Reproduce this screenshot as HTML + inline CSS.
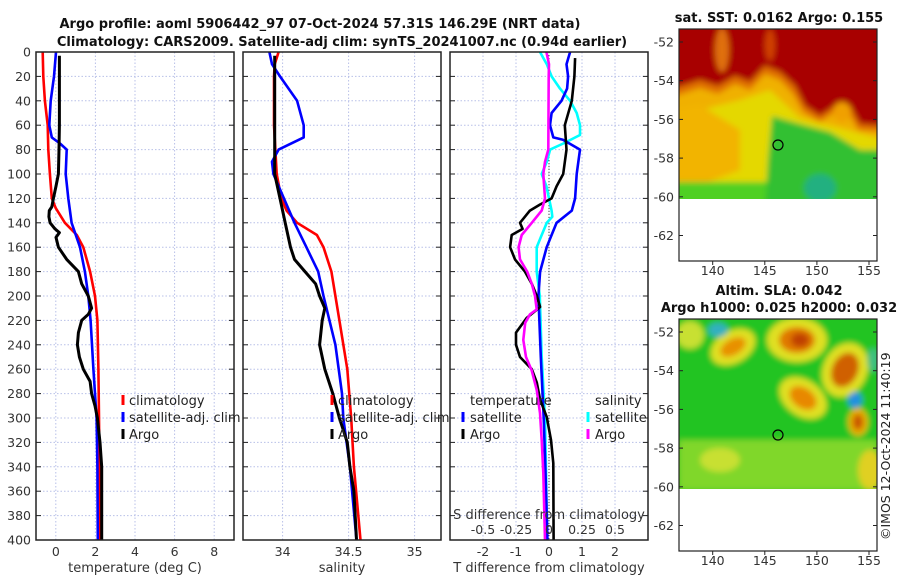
<!DOCTYPE html>
<html><head><meta charset="utf-8"><style>
html,body{margin:0;padding:0;background:#fff;}
svg{display:block;font-family:"DejaVu Sans","Liberation Sans",sans-serif;}
</style></head><body>
<svg id="fig" width="900" height="580" viewBox="0 0 900 580" xmlns="http://www.w3.org/2000/svg">
<defs>
<filter id="bl" filterUnits="userSpaceOnUse" x="600" y="0" width="300" height="580"><feGaussianBlur stdDeviation="3"/></filter>
<clipPath id="c1"><rect x="679" y="29" width="198" height="170"/></clipPath>
<clipPath id="c2"><rect x="679" y="319" width="198" height="170"/></clipPath>
</defs>
<g font-weight="bold" font-size="13" text-anchor="middle" fill="#111">
<text x="320" y="28">Argo profile: aoml 5906442_97 07-Oct-2024 57.31S 146.29E (NRT data)</text>
<text x="342" y="46">Climatology: CARS2009. Satellite-adj clim: synTS_20241007.nc (0.94d earlier)</text>
</g>
<g id="grids"></g>
<g id="lines"></g>
<g id="frames"></g>
<g id="labels" font-size="12.5" fill="#333"></g>

<g font-size="13" fill="#222">
<line x1="123" y1="395" x2="123" y2="405" stroke="red" stroke-width="3"/><text x="129" y="405">climatology</text>
<line x1="123" y1="412" x2="123" y2="422" stroke="blue" stroke-width="3"/><text x="129" y="422">satellite-adj. clim</text>
<line x1="123" y1="429" x2="123" y2="439" stroke="black" stroke-width="3"/><text x="129" y="439">Argo</text>
</g>
<g font-size="13" fill="#222">
<line x1="332" y1="395" x2="332" y2="405" stroke="red" stroke-width="3"/><text x="338" y="405">climatology</text>
<line x1="332" y1="412" x2="332" y2="422" stroke="blue" stroke-width="3"/><text x="338" y="422">satellite-adj. clim</text>
<line x1="332" y1="429" x2="332" y2="439" stroke="black" stroke-width="3"/><text x="338" y="439">Argo</text>
</g>
<g font-size="13" fill="#222">
<text x="470" y="405">temperature</text>
<line x1="463" y1="412" x2="463" y2="422" stroke="blue" stroke-width="3"/><text x="470" y="422">satellite</text>
<line x1="463" y1="429" x2="463" y2="439" stroke="black" stroke-width="3"/><text x="470" y="439">Argo</text>
<text x="595" y="405">salinity</text>
<line x1="588" y1="412" x2="588" y2="422" stroke="cyan" stroke-width="3"/><text x="595" y="422">satellite</text>
<line x1="588" y1="429" x2="588" y2="439" stroke="magenta" stroke-width="3"/><text x="595" y="439">Argo</text>
</g>

<!-- SST map -->
<g>
<text x="779" y="22" font-size="13" font-weight="bold" text-anchor="middle" fill="#111">sat. SST: 0.0162 Argo: 0.155</text>
<g clip-path="url(#c1)"><g filter="url(#bl)">
<rect x="670" y="20" width="215" height="190" fill="#a80000"/>
<polygon points="670,90 700,80 718,86 735,76 750,82 765,66 780,72 795,86 805,106 820,116 835,106 850,106 860,124 885,126 885,210 670,210" fill="#e07000"/>
<polygon points="670,98 700,88 718,94 735,84 750,90 765,74 780,80 793,94 803,112 820,122 835,112 848,112 858,130 885,132 885,210 670,210" fill="#f0b000"/>
<polygon points="700,110 740,100 770,90 800,118 840,128 885,140 885,210 680,210 690,150" fill="#e4d800"/>
<polygon points="670,110 700,105 740,130 740,170 700,185 670,185" fill="#f2b400"/>
<rect x="670" y="182" width="110" height="30" fill="#50d020"/>
<polygon points="772,116 800,124 830,132 860,150 885,150 885,210 765,210 768,160" fill="#30c030"/>
<ellipse cx="820" cy="188" rx="16" ry="14" fill="#20b080"/>
<ellipse cx="722" cy="50" rx="7" ry="22" fill="#e07010"/>
<ellipse cx="770" cy="45" rx="5" ry="16" fill="#d04000"/>
<ellipse cx="842" cy="112" rx="9" ry="10" fill="#f0a000"/>
</g></g>
<rect x="679" y="29" width="198" height="232" fill="none" stroke="#222" stroke-width="1.2"/>
<circle cx="778" cy="145" r="5" fill="none" stroke="#000" stroke-width="1.2"/>
</g>

<!-- SLA map -->
<g>
<text x="779" y="295" font-size="13" font-weight="bold" text-anchor="middle" fill="#111">Altim. SLA: 0.042</text>
<text x="779" y="312" font-size="13" font-weight="bold" text-anchor="middle" fill="#111">Argo h1000: 0.025 h2000: 0.032</text>
<g clip-path="url(#c2)"><g filter="url(#bl)">
<rect x="670" y="310" width="215" height="190" fill="#22c422"/>
<rect x="679" y="440" width="198" height="50" fill="#a8e030" opacity="0.7"/>
<ellipse cx="690" cy="335" rx="14" ry="14" fill="#c8e030"/>
<ellipse cx="733" cy="347" rx="24" ry="16" fill="#e0e020" transform="rotate(-30 733 347)"/>
<ellipse cx="733" cy="347" rx="14" ry="8" fill="#e89000" transform="rotate(-30 733 347)"/>
<ellipse cx="797" cy="340" rx="30" ry="22" fill="#e0e020"/>
<ellipse cx="797" cy="340" rx="18" ry="13" fill="#e07800"/>
<ellipse cx="800" cy="340" rx="9" ry="7" fill="#c04000"/>
<ellipse cx="803" cy="398" rx="26" ry="18" fill="#e0e020" transform="rotate(35 803 398)"/>
<ellipse cx="803" cy="398" rx="15" ry="10" fill="#e88800" transform="rotate(35 803 398)"/>
<ellipse cx="845" cy="370" rx="22" ry="28" fill="#e0e020" transform="rotate(25 845 370)"/>
<ellipse cx="845" cy="370" rx="13" ry="18" fill="#d06000" transform="rotate(25 845 370)"/>
<ellipse cx="858" cy="422" rx="10" ry="14" fill="#e8b000"/>
<ellipse cx="858" cy="422" rx="5" ry="8" fill="#c85000"/>
<ellipse cx="855" cy="400" rx="7" ry="8" fill="#2090e0"/>
<ellipse cx="718" cy="330" rx="10" ry="7" fill="#30b0c0"/>
<ellipse cx="873" cy="360" rx="6" ry="12" fill="#40c080"/>
<ellipse cx="870" cy="470" rx="12" ry="20" fill="#e0d020"/>
<ellipse cx="720" cy="460" rx="20" ry="12" fill="#c8e030"/>
</g></g>
<rect x="679" y="319" width="198" height="232" fill="none" stroke="#222" stroke-width="1.2"/>
<circle cx="778" cy="435" r="5" fill="none" stroke="#000" stroke-width="1.2"/>
</g>
<g id="maplabels" font-size="12.5" fill="#333"></g>
<text transform="translate(890,540) rotate(-90)" font-size="12.5" fill="#222">©IMOS 12-Oct-2024 11:40:19</text>
</svg>
<script>
// ---- data ----
const depthTicks=[0,20,40,60,80,100,120,140,160,180,200,220,240,260,280,300,320,340,360,380,400];
const tempTicks=[0,2,4,6,8];
const salTicks=[34,34.5,35];
const salTickLabels=["34","34.5","35"];
const tdiffTicks=[-2,-1,0,1,2];
const sdiffTicks=[-0.5,-0.25,0,0.25,0.5];
const sdiffTickLabels=["-0.5","-0.25","0","0.25","0.5"];
const latTicks=[-52,-54,-56,-58,-60,-62];
const lonTicks=[140,145,150,155];

const tClimDepth=[0,20,40,60,80,100,120,128,140,150,160,180,200,220,260,300,340,400];
const tClim=[-0.66,-0.63,-0.55,-0.41,-0.38,-0.3,-0.2,0,0.46,1.06,1.39,1.73,1.98,2.1,2.15,2.18,2.2,2.23];
const tSatDepth=[0,20,40,60,70,75,80,100,120,140,160,180,200,220,260,300,340,400];
const tSat=[0.01,-0.09,-0.26,-0.33,-0.2,0.21,0.55,0.5,0.63,0.8,1.22,1.47,1.64,1.76,1.9,2.06,2.1,2.12];
const tArgoDepth=[3,60,80,100,110,120,127,130,135,140,145,148,152,160,170,180,190,200,210,215,220,230,240,250,260,270,280,290,300,320,340,400];
const tArgo=[0.18,0.18,0.16,0.13,0.01,-0.12,-0.2,-0.33,-0.35,-0.29,-0.04,0.18,0.01,0.13,0.55,1.14,1.31,1.64,1.81,1.64,1.31,1.14,1.09,1.19,1.39,1.73,1.81,1.98,2.1,2.23,2.32,2.32];

const sClimDepth=[0,10,20,60,100,120,130,140,150,160,180,200,220,260,300,340,400];
const sClim=[33.97,33.94,33.935,33.935,33.955,33.99,34.03,34.11,34.26,34.31,34.37,34.40,34.43,34.49,34.52,34.54,34.59];
const sSatDepth=[0,10,20,40,60,70,80,90,100,120,140,160,180,200,240,280,300,340,400];
const sSat=[33.9,33.92,33.98,34.11,34.16,34.16,33.97,33.92,33.93,34.01,34.09,34.18,34.27,34.31,34.40,34.45,34.46,34.51,34.56];
const sArgoDepth=[3,100,120,140,160,170,180,190,200,210,220,240,260,280,300,320,340,360,400];
const sArgo=[33.94,33.94,33.98,34.02,34.06,34.09,34.17,34.25,34.28,34.32,34.30,34.28,34.32,34.38,34.43,34.49,34.51,34.54,34.56];

const dtSatDepth=[0,10,20,30,40,50,60,70,72,80,100,120,130,140,150,160,180,200,250,300,350,400];
const dtSat=[0.64,0.53,0.58,0.55,0.38,0.08,0.03,0.13,0.42,0.94,0.84,0.79,0.69,0.23,0.08,-0.07,-0.27,-0.32,-0.25,-0.16,-0.1,-0.05];
const dtArgoDepth=[5,20,40,60,80,100,110,120,125,130,140,145,150,160,170,180,190,200,209,218,230,240,250,260,271,285,299,318,337,400];
const dtArgo=[0.79,0.77,0.69,0.48,0.53,0.43,0.23,0.08,-0.27,-0.58,-0.88,-0.8,-1.13,-1.18,-1.03,-0.73,-0.52,-0.37,-0.27,-0.68,-1.0,-1.0,-0.88,-0.52,-0.37,-0.27,-0.07,0.06,0.13,0.14];
const dsSatDepth=[0,10,20,30,40,50,60,68,75,80,90,100,110,130,135,140,150,160,180,200,250,300,400];
const dsSat=[-0.068,-0.017,0.02,0.083,0.16,0.21,0.235,0.235,0.108,0.008,-0.017,-0.055,-0.02,0.02,0.025,-0.017,-0.055,-0.093,-0.093,-0.07,-0.055,-0.03,-0.013];
const dsArgoDepth=[0,10,20,50,80,90,100,120,130,140,150,160,170,180,190,200,211,215,222,236,250,261,277,296,318,345,400];
const dsArgo=[-0.02,0,-0.002,-0.004,-0.005,-0.03,-0.043,-0.03,-0.055,-0.13,-0.207,-0.23,-0.22,-0.165,-0.13,-0.106,-0.093,-0.144,-0.18,-0.195,-0.174,-0.131,-0.093,-0.068,-0.055,-0.043,-0.03];

// ---- axes ----
const yD=d=>52+d*1.22;
const xT=v=>36+(v+1)*19.8;
const xS=v=>243+(v-33.7)*132;
const xD=v=>549+v*33;
const xSD=v=>549+v*132;
const panels=[{x:36,name:'temperature'},{x:243,name:'salinity'},{x:450,name:'difference'}];
const W=198,TOP=52,BOT=540;
const NS='http://www.w3.org/2000/svg';
function mk(tag,attrs,parent){const e=document.createElementNS(NS,tag);for(const k in attrs)e.setAttribute(k,attrs[k]);parent.appendChild(e);return e;}
const G=document.getElementById('grids'),L=document.getElementById('lines'),F=document.getElementById('frames'),LB=document.getElementById('labels'),ML=document.getElementById('maplabels');

function vgrid(x){const l=mk('line',{x1:x,x2:x,y1:TOP,y2:BOT,stroke:'#b8c0e8','stroke-width':1,'stroke-dasharray':'1.5,2'},G);

}
panels.forEach(p=>{depthTicks.forEach(d=>{if(d===0||d===400)return;const l=mk('line',{x1:p.x,x2:p.x+W,y1:yD(d),y2:yD(d),stroke:'#b8c0e8','stroke-width':1,'stroke-dasharray':'1.5,2'},G);


[[p.x,p.x+5],[p.x+W-5,p.x+W]].forEach(s=>{const t=mk('line',{x1:s[0],x2:s[1],y1:yD(d),y2:yD(d),stroke:'#222','stroke-width':1},F);

});});});
tempTicks.forEach(v=>vgrid(xT(v)));
salTicks.forEach(v=>vgrid(xS(v)));
tdiffTicks.forEach(v=>vgrid(xD(v)));
const zl=mk('line',{x1:549,x2:549,y1:TOP,y2:BOT,stroke:'#444','stroke-width':1,'stroke-dasharray':'1,2'},G);



function series(ds,vs,xf,color,name,w){const pts=ds.map((d,i)=>xf(vs[i]).toFixed(1)+','+yD(d).toFixed(1)).join(' ');
const p=mk('polyline',{points:pts,fill:'none',stroke:color,'stroke-width':w||2.6,'stroke-linejoin':'round'},L);

}
series(tClimDepth,tClim,xT,'red','temperature-climatology-line');
series(tSatDepth,tSat,xT,'blue','temperature-satellite-line');
series(tArgoDepth,tArgo,xT,'black','temperature-argo-line',3);
series(sClimDepth,sClim,xS,'red','salinity-climatology-line');
series(sSatDepth,sSat,xS,'blue','salinity-satellite-line');
series(sArgoDepth,sArgo,xS,'black','salinity-argo-line',3);
series(dsSatDepth,dsSat,xSD,'cyan','salinity-satellite-diff-line');
series(dtSatDepth,dtSat,xD,'blue','temperature-satellite-diff-line');
series(dtArgoDepth,dtArgo,xD,'black','temperature-argo-diff-line');
series(dsArgoDepth,dsArgo,xSD,'magenta','salinity-argo-diff-line');

panels.forEach(p=>{const r=mk('rect',{x:p.x,y:TOP,width:W,height:BOT-TOP,fill:'none',stroke:'#222','stroke-width':1.5},F);

});

function txt(x,y,s,anchor,name,parent){const t=mk('text',{x:x,y:y,'text-anchor':anchor},parent||LB);t.textContent=s;

return t;}
depthTicks.forEach(d=>txt(31,yD(d)+4.5,String(d),'end','depth-tick-label'));
tempTicks.forEach(v=>txt(xT(v),556,String(v),'middle','temperature-tick-label'));
salTicks.forEach((v,i)=>txt(xS(v),556,salTickLabels[i],'middle','salinity-tick-label'));
tdiffTicks.forEach(v=>txt(xD(v),556,String(v),'middle','tdiff-tick-label'));
sdiffTicks.forEach((v,i)=>txt(xSD(v),534,sdiffTickLabels[i],'middle','sdiff-tick-label'));
txt(135,572,'temperature (deg C)','middle','temperature-axis-title').setAttribute('font-size','13');
txt(342,572,'salinity','middle','salinity-axis-title').setAttribute('font-size','13');
txt(549,572,'T difference from climatology','middle','tdiff-axis-title').setAttribute('font-size','13');
txt(549,519,'S difference from climatology','middle','sdiff-axis-title').setAttribute('font-size','13');

const yLat1=v=>42+(-52-v)*19.35, yLat2=v=>332+(-52-v)*19.35, xLon=v=>712.7+(v-140)*10.42;
[[yLat1,29,261,275],[yLat2,319,551,565]].forEach(m=>{
latTicks.forEach(v=>{const y=m[0](v);txt(674,y+4.5,String(v),'end','latitude-tick-label',ML);
[[679,683],[873,877]].forEach(s=>{const t=mk('line',{x1:s[0],x2:s[1],y1:y,y2:y,stroke:'#222'},ML);

});});
lonTicks.forEach(v=>{const x=xLon(v);txt(x,m[3],String(v),'middle','longitude-tick-label',ML);
const t=mk('line',{x1:x,x2:x,y1:m[2],y2:m[2]+4,stroke:'#222'},ML);

});});
</script>
</body></html>
